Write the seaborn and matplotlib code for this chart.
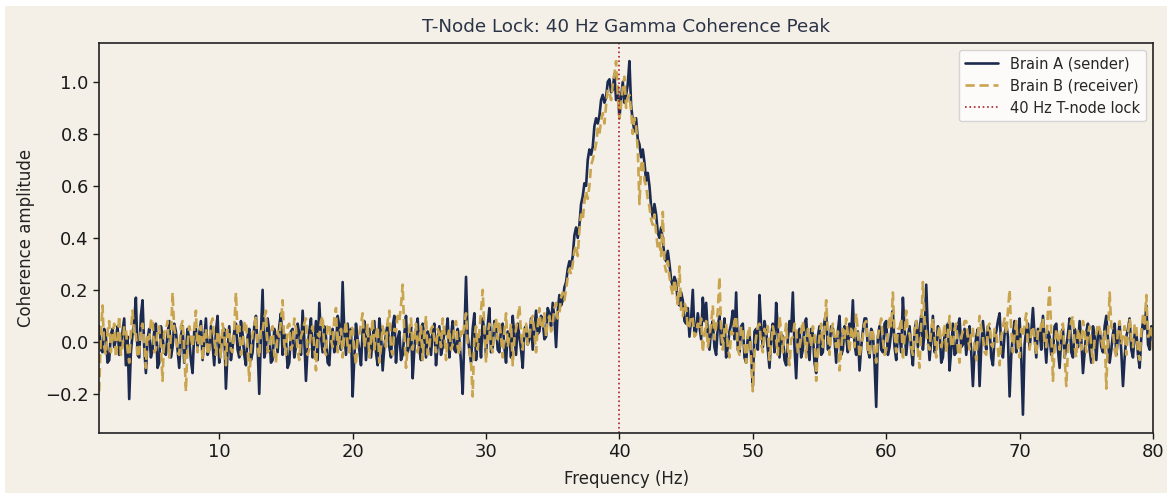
import numpy as np
import pandas as pd
import matplotlib
matplotlib.use("Agg")
import matplotlib.pyplot as plt
from matplotlib.patches import Rectangle
import seaborn as sns

# frequency grid (Hz): 0.125 Hz steps starting at 1 Hz
freq_start = 1.0
freq_step = 0.125

# Brain A (sender) coherence, one row per 5 Hz
brain_a = [
    0.06, -0.03, -0.04, 0.05, 0.02, -0.08, -0.07, 0.03, 0.05, -0.02, 0.01, 0.06, -0.05, -0.01, 0.04, 0.09, -0.09, 0.02, -0.22, -0.04,
    0.03, 0.08, 0.17, -0.05, -0.06, 0.10, 0.16, -0.02, -0.12, 0.01, 0.05, -0.06, -0.03, 0.04, 0.07, -0.10, -0.08, 0.06, 0.02, -0.04,
    -0.05, 0.03, 0.08, -0.06, -0.02, 0.07, 0.04, -0.03, -0.10, 0.02, 0.06, -0.08, -0.04, 0.05, 0.01, -0.07, -0.12, 0.04, 0.05, -0.02,
    0.03, 0.08, -0.07, 0.01, 0.09, -0.05, -0.03, 0.06, -0.01, -0.09, 0.04, 0.10, -0.08, -0.02, 0.02, 0.05, -0.18, -0.03, 0.06, -0.07,
    -0.02, 0.04, 0.07, -0.03, -0.06, 0.08, 0.03, -0.05, -0.09, 0.02, 0.05, -0.07, -0.04, 0.06, 0.10, -0.02, -0.20, 0.03, 0.20, -0.06,
    -0.03, 0.09, 0.04, -0.08, -0.07, 0.05, 0.02, -0.04, 0.06, 0.11, -0.05, 0.03, 0.01, -0.10, -0.08, 0.04, 0.05, -0.06, -0.02, 0.07,
    0.03, -0.05, 0.12, 0.01, -0.15, -0.02, 0.04, 0.09, -0.06, -0.01, 0.08, -0.07, 0.15, 0.02, -0.04, 0.06, 0.02, -0.08, -0.09, 0.03,
    0.05, -0.04, -0.02, 0.10, 0.06, -0.03, 0.23, 0.04, -0.05, 0.07, -0.01, 0.05, -0.21, -0.06, 0.07, 0.01, -0.03, -0.09, 0.04, 0.08,
    -0.07, 0.02, 0.05, -0.06, 0.01, 0.08, -0.04, -0.09, 0.09, 0.03, -0.11, -0.02, 0.03, 0.07, -0.02, -0.06, 0.06, 0.10, -0.08, 0.01,
    0.04, -0.07, -0.05, 0.03, 0.10, -0.04, -0.01, 0.06, -0.14, -0.03, 0.05, 0.09, -0.03, -0.07, 0.07, 0.02, -0.06, 0.04, 0.02, -0.05,
    0.04, 0.07, -0.09, -0.01, 0.06, -0.05, -0.02, 0.04, 0.03, 0.09, -0.06, 0.02, 0.08, -0.03, -0.04, 0.05, 0.01, -0.08, -0.20, 0.03,
    0.25, 0.02, -0.03, -0.08, 0.05, 0.11, -0.07, 0.00, 0.02, -0.06, 0.09, 0.04, -0.05, 0.06, 0.13, -0.04, -0.02, 0.08, 0.06, -0.03,
    -0.04, 0.05, 0.07, -0.02, -0.08, 0.04, 0.03, -0.06, 0.10, 0.02, -0.05, 0.07, 0.02, -0.03, -0.10, 0.05, 0.06, -0.01, 0.01, 0.09,
    -0.03, 0.05, 0.12, 0.03, 0.04, 0.10, 0.08, 0.01, 0.02, 0.13, 0.11, 0.06, 0.15, 0.09, -0.02, 0.12, 0.18, 0.14, 0.16, 0.21,
    0.23, 0.28, 0.31, 0.29, 0.33, 0.41, 0.44, 0.40, 0.45, 0.53, 0.56, 0.61, 0.60, 0.70, 0.74, 0.72, 0.75, 0.83, 0.86, 0.84,
    0.87, 0.93, 0.95, 0.92, 0.94, 1.00, 1.01, 0.96, 0.97, 1.03, 0.93, 0.98, 0.86, 0.94, 1.00, 0.92, 0.95, 0.99, 1.08, 0.91,
    0.85, 0.81, 0.86, 0.78, 0.76, 0.71, 0.74, 0.69, 0.62, 0.65, 0.60, 0.52, 0.48, 0.53, 0.49, 0.42, 0.40, 0.44, 0.39, 0.33,
    0.31, 0.35, 0.30, 0.24, 0.21, 0.25, 0.23, 0.15, 0.14, 0.19, 0.16, 0.08, 0.07, 0.13, 0.02, 0.09, 0.20, 0.03, 0.04, 0.11,
    0.06, 0.01, 0.17, 0.08, 0.15, 0.03, -0.03, 0.05, 0.08, -0.02, -0.05, 0.06, 0.10, -0.01, 0.02, 0.09, -0.06, -0.02, 0.04, 0.07,
    0.12, 0.01, 0.19, -0.03, -0.04, 0.06, 0.07, -0.06, -0.08, 0.02, 0.03, -0.05, -0.17, 0.04, 0.05, -0.03, 0.18, 0.06, -0.02, 0.08,
    0.04, -0.03, -0.10, 0.02, 0.07, -0.04, 0.15, 0.05, -0.06, 0.03, 0.02, -0.07, -0.09, 0.01, 0.08, 0.04, 0.19, -0.02, -0.14, 0.03,
    0.05, -0.06, -0.03, 0.07, 0.09, -0.02, -0.07, 0.05, 0.03, -0.08, -0.12, 0.02, 0.06, -0.05, -0.04, 0.08, 0.11, -0.03, -0.02, 0.06,
    0.05, 0.01, -0.08, 0.04, 0.10, -0.05, -0.03, 0.06, 0.02, -0.04, 0.07, 0.02, 0.16, -0.01, -0.05, 0.04, -0.11, -0.02, 0.04, 0.09,
    0.09, -0.03, -0.06, 0.05, 0.03, -0.08, -0.25, 0.02, 0.06, -0.03, -0.04, 0.07, 0.08, -0.05, -0.02, 0.04, 0.12, -0.02, -0.07, 0.03,
    0.03, -0.04, 0.17, 0.05, -0.05, 0.02, 0.06, -0.03, -0.09, 0.04, 0.08, -0.02, 0.05, 0.10, -0.03, 0.04, 0.22, 0.03, -0.07, 0.01,
    0.10, -0.04, -0.02, 0.06, 0.04, -0.08, -0.06, 0.03, 0.02, 0.07, -0.11, -0.03, 0.07, -0.05, -0.04, 0.06, 0.09, -0.02, -0.01, 0.05,
    -0.05, 0.02, 0.06, -0.04, -0.17, -0.03, 0.02, 0.05, -0.17, -0.02, 0.08, 0.01, -0.03, 0.06, 0.05, -0.06, -0.09, 0.02, 0.04, 0.08,
    0.11, -0.02, -0.06, 0.03, 0.07, 0.02, -0.21, -0.05, 0.03, 0.08, -0.04, 0.02, 0.09, -0.06, -0.28, -0.01, 0.05, 0.07, -0.02, 0.04,
    0.13, 0.02, -0.06, 0.05, 0.04, -0.03, 0.10, 0.01, -0.08, 0.04, 0.02, -0.05, -0.04, 0.06, 0.07, -0.03, -0.10, 0.02, 0.05, -0.06,
    -0.02, 0.03, 0.09, -0.04, -0.06, 0.05, 0.03, -0.02, 0.08, 0.01, -0.12, -0.04, 0.04, 0.07, -0.03, -0.08, 0.06, 0.02, -0.07, 0.03,
    0.05, -0.02, -0.04, 0.06, 0.10, 0.01, -0.08, -0.03, 0.03, 0.07, -0.05, 0.02, 0.07, -0.04, -0.17, -0.06, 0.02, 0.05, 0.09, -0.03,
    -0.06, 0.03, 0.04, -0.05, -0.10, 0.02, 0.08, 0.05, 0.14, -0.01, -0.03, 0.06, 0.05,
]

# Brain B (receiver) coherence
brain_b = [
    -0.19, 0.03, 0.14, -0.02, -0.05, 0.04, 0.08, -0.04, 0.02, 0.07, -0.06, 0.01, 0.10, -0.05, -0.02, 0.06, 0.05, -0.03, -0.08, 0.04,
    0.12, 0.02, 0.03, -0.06, -0.04, 0.05, 0.07, 0.00, -0.10, 0.03, 0.01, 0.08, 0.09, -0.04, -0.03, 0.05, 0.06, -0.02, -0.15, 0.04,
    0.04, 0.08, -0.06, 0.02, 0.19, 0.05, 0.02, -0.04, -0.05, 0.06, 0.08, -0.03, -0.19, -0.01, 0.06, 0.03, -0.02, 0.05, 0.12, -0.04,
    0.03, 0.06, -0.07, 0.02, 0.05, -0.05, -0.03, 0.07, 0.09, 0.01, -0.05, 0.04, 0.02, -0.06, 0.07, 0.03, -0.09, 0.05, 0.04, -0.03,
    -0.04, 0.05, 0.19, 0.03, 0.06, -0.05, -0.02, 0.07, 0.08, -0.02, -0.15, -0.03, 0.03, 0.06, 0.10, -0.02, -0.06, 0.05, 0.04, 0.09,
    0.12, -0.04, -0.03, 0.02, 0.06, -0.05, -0.08, 0.04, 0.02, 0.08, 0.16, -0.01, -0.05, 0.06, 0.07, -0.03, -0.01, 0.09, 0.05, -0.04,
    -0.07, 0.02, 0.04, 0.07, 0.09, -0.05, -0.03, 0.04, 0.06, -0.02, -0.11, 0.03, 0.02, 0.08, 0.10, -0.03, -0.05, 0.06, 0.07, 0.01,
    -0.02, 0.09, 0.13, -0.04, 0.01, 0.05, -0.06, 0.03, 0.08, -0.02, -0.04, 0.06, 0.05, -0.03, -0.09, 0.02, 0.03, 0.07, 0.11, -0.02,
    0.02, 0.07, -0.06, 0.01, 0.09, -0.03, 0.03, 0.06, -0.08, -0.02, 0.06, 0.03, -0.02, 0.08, 0.12, -0.03, -0.05, 0.05, 0.04, 0.10,
    0.08, 0.14, 0.22, 0.03, -0.10, -0.02, 0.05, 0.09, -0.03, 0.02, 0.07, -0.04, 0.01, 0.06, -0.07, 0.03, 0.10, -0.05, -0.02, 0.05,
    0.06, 0.01, -0.04, 0.05, 0.03, -0.02, 0.09, 0.04, -0.07, 0.02, 0.05, -0.03, -0.01, 0.06, 0.08, -0.02, -0.05, 0.04, 0.02, 0.07,
    0.11, -0.01, -0.03, -0.08, -0.21, 0.02, 0.06, -0.03, 0.04, 0.12, 0.20, 0.05, -0.08, 0.03, 0.07, -0.02, -0.04, 0.06, 0.09, 0.01,
    0.08, 0.02, -0.06, 0.04, 0.11, -0.02, 0.02, 0.07, -0.09, 0.01, 0.05, 0.09, 0.14, 0.03, -0.03, 0.06, 0.07, -0.01, 0.01, 0.08,
    0.10, 0.03, -0.04, 0.06, 0.13, 0.05, 0.06, 0.11, 0.02, 0.08, 0.10, 0.04, 0.07, 0.13, 0.15, 0.09, 0.11, 0.17, 0.19, 0.16,
    0.20, 0.25, 0.28, 0.26, 0.30, 0.35, 0.37, 0.33, 0.43, 0.49, 0.47, 0.54, 0.58, 0.55, 0.60, 0.68, 0.70, 0.73, 0.76, 0.82,
    0.80, 0.85, 0.88, 0.84, 0.91, 0.97, 0.96, 0.93, 0.99, 1.03, 1.08, 0.95, 0.86, 0.91, 0.98, 1.02, 0.90, 0.94, 0.95, 0.89,
    0.80, 0.86, 0.83, 0.74, 0.53, 0.68, 0.70, 0.62, 0.60, 0.55, 0.52, 0.47, 0.45, 0.49, 0.42, 0.36, 0.38, 0.33, 0.50, 0.30,
    0.27, 0.31, 0.25, 0.21, 0.18, 0.24, 0.20, 0.14, 0.29, 0.12, 0.10, 0.15, 0.13, 0.05, 0.06, 0.10, 0.09, 0.02, 0.03, 0.07,
    0.05, 0.09, -0.04, 0.03, 0.08, -0.02, 0.02, 0.07, 0.14, 0.01, 0.06, 0.12, 0.25, 0.04, -0.03, 0.05, 0.07, -0.02, -0.06, 0.04,
    0.03, 0.08, 0.10, -0.03, -0.05, 0.06, 0.04, -0.02, -0.08, 0.03, 0.06, -0.07, -0.19, -0.04, 0.02, 0.06, 0.07, -0.01, -0.04, 0.05,
    0.03, 0.06, -0.07, -0.01, 0.06, 0.03, 0.01, -0.05, 0.10, 0.04, -0.04, 0.02, 0.07, -0.03, -0.09, 0.01, 0.02, 0.07, 0.05, -0.04,
    -0.03, 0.04, 0.08, 0.02, -0.06, 0.05, 0.04, -0.02, 0.06, 0.03, -0.15, -0.04, 0.02, 0.07, -0.02, 0.05, 0.16, 0.03, -0.05, 0.04,
    0.07, 0.02, -0.02, 0.04, -0.11, -0.03, 0.05, 0.01, 0.09, 0.03, -0.04, 0.06, 0.03, -0.02, 0.11, 0.04, -0.06, -0.01, 0.02, 0.07,
    0.08, -0.03, -0.05, 0.05, 0.04, -0.04, -0.08, 0.02, 0.06, 0.09, 0.01, -0.05, -0.03, 0.04, 0.10, 0.06, 0.19, 0.03, -0.04, 0.05,
    0.05, 0.09, -0.07, 0.02, 0.12, 0.04, 0.03, -0.02, -0.05, 0.05, 0.08, -0.04, -0.10, 0.06, 0.23, 0.08, 0.04, -0.01, -0.03, 0.05,
    0.09, 0.02, -0.06, 0.03, 0.06, -0.02, 0.01, 0.07, -0.04, 0.03, 0.10, -0.01, -0.02, 0.05, 0.07, -0.03, -0.08, 0.02, 0.04, 0.08,
    0.08, 0.02, -0.03, 0.04, 0.05, -0.02, -0.07, 0.03, 0.10, 0.05, 0.02, -0.04, -0.05, 0.06, 0.07, -0.01, -0.02, 0.05, 0.04, -0.03,
    -0.09, 0.02, 0.06, 0.09, 0.03, 0.12, 0.20, 0.04, -0.04, 0.03, 0.08, -0.02, -0.06, 0.05, 0.02, 0.07, 0.11, -0.01, -0.03, 0.04,
    0.06, 0.01, -0.05, 0.04, 0.03, 0.07, 0.09, -0.01, -0.02, 0.12, 0.21, 0.03, -0.15, -0.02, 0.05, 0.02, -0.03, 0.06, 0.07, -0.06,
    -0.17, -0.03, 0.04, 0.08, 0.10, -0.02, -0.06, 0.05, 0.02, -0.03, 0.08, 0.04, -0.04, 0.03, 0.06, -0.02, -0.08, 0.01, 0.03, 0.07,
    0.05, 0.01, -0.03, 0.04, -0.18, 0.02, 0.19, 0.06, 0.04, -0.03, -0.06, 0.05, 0.08, -0.01, 0.02, 0.06, -0.05, 0.03, 0.09, 0.01,
    -0.02, 0.07, 0.06, -0.04, -0.07, 0.04, 0.10, 0.07, 0.18, 0.02, 0.03, 0.06, -0.04,
]

lock_freq = 40

df_a = pd.DataFrame({"freq": freq_start + freq_step * np.arange(len(brain_a)),
                     "coh": brain_a})
df_b = pd.DataFrame({"freq": freq_start + freq_step * np.arange(len(brain_b)),
                     "coh": brain_b})

bg = "#f4f0e8"
navy = "#1b2a4e"
gold = "#c9a550"
red = "#a8202a"

sns.set_theme(style="ticks")
plt.rcParams["font.family"] = ["DejaVu Sans"]

fig = plt.figure(figsize=(11.67, 4.93), dpi=100, facecolor=bg)
ax = fig.add_axes([0.085, 0.122, 0.903, 0.791])
ax.set_facecolor(bg)

# thin white strip along top and left edge, as in the reference image
fig.add_artist(Rectangle((0, 1 - 6 / 493), 1, 6 / 493, transform=fig.transFigure,
                         facecolor="white", edgecolor="none"))
fig.add_artist(Rectangle((0, 0), 5 / 1167, 1, transform=fig.transFigure,
                         facecolor="white", edgecolor="none"))

sns.lineplot(data=df_a, x="freq", y="coh", ax=ax, color=navy, linewidth=1.9,
             label="Brain A (sender)")
sns.lineplot(data=df_b, x="freq", y="coh", ax=ax, color=gold, linewidth=1.9,
             linestyle=(0, (3.5, 1.8)), label="Brain B (receiver)")
ax.axvline(lock_freq, color=red, linestyle=":", linewidth=1.2,
           label="40 Hz T-node lock")

ax.set_xlim(1, 80)
ax.set_ylim(-0.35, 1.15)
ax.set_xticks([10, 20, 30, 40, 50, 60, 70, 80])
ax.set_yticks([-0.2, 0.0, 0.2, 0.4, 0.6, 0.8, 1.0])
ax.tick_params(labelsize=13, colors="#1a1a1a", length=4, width=1)
for s in ax.spines.values():
    s.set_color("#222222")
    s.set_linewidth(1.2)

ax.set_xlabel("Frequency (Hz)", fontsize=12, color="#222222", labelpad=6)
ax.set_ylabel("Coherence amplitude", fontsize=12, color="#222222", labelpad=7)
ax.set_title("T-Node Lock: 40 Hz Gamma Coherence Peak", fontsize=13.2,
             color="#2b3447", pad=8)

leg = ax.legend(loc="upper right", fontsize=10.5, frameon=True, fancybox=True,
                framealpha=0.8, handlelength=2.3)
leg.get_frame().set_facecolor("white")
leg.get_frame().set_edgecolor("#cccccc")

fig.savefig("out.png", dpi=100, facecolor=bg)
